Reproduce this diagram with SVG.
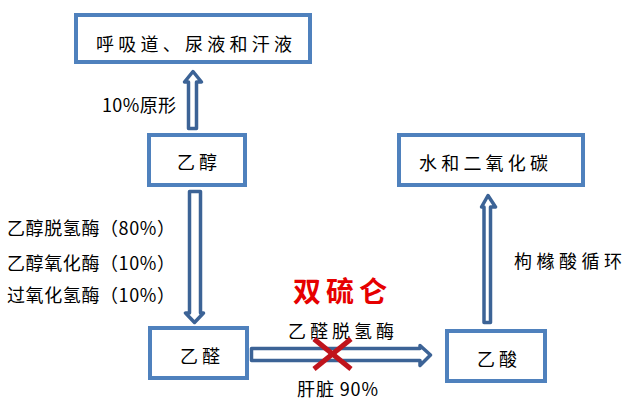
<svg xmlns="http://www.w3.org/2000/svg" width="634" height="413" viewBox="0 0 634 413">
<style>
.box{fill:#fff;stroke:#4f81bd;stroke-width:4}
.arr{fill:#fff;stroke:#3c6396;stroke-width:3.5;stroke-linejoin:round}
.t{font-family:"Noto Sans CJK SC","Liberation Sans",sans-serif;font-size:18px;fill:#000;dominant-baseline:central}
.red{font-family:"Noto Sans CJK SC","Liberation Sans",sans-serif;font-size:28px;font-weight:bold;fill:#e60000;dominant-baseline:central}
</style>
<rect width="634" height="413" fill="#fff"/>
<g id="connectors">
<polygon class="arr" points="193,71.5 201.5,82 196.5,82 196.5,128.5 188.5,128.5 188.5,82 184.5,82"/>
<polygon class="arr" points="189.5,191.5 200.5,191.5 200.5,313 203.5,313 194.5,322.5 185.5,313 189.5,313"/>
<polygon class="arr" points="251.5,348.5 420,348.5 420,345.5 430.5,355 420,365.5 420,360.5 251.5,360.5"/>
<polygon class="arr" points="488,195.5 495.5,207 490.5,207 490.5,322.5 484,322.5 484,207 481.5,207"/>
<text class="t" x="102" y="104" textLength="74" lengthAdjust="spacing">10%原形</text>
<text class="t" x="7" y="227" textLength="168" lengthAdjust="spacing">乙醇脱氢酶（80%）</text>
<text class="t" x="7" y="262" textLength="168" lengthAdjust="spacing">乙醇氧化酶（10%）</text>
<text class="t" x="7" y="294" textLength="168" lengthAdjust="spacing">过氧化氢酶（10%）</text>
<text class="t" x="288" y="330" textLength="106" lengthAdjust="spacing">乙醛脱氢酶</text>
<text class="t" x="297" y="388" textLength="81" lengthAdjust="spacing">肝脏 90%</text>
<text class="t" x="514" y="260" textLength="108" lengthAdjust="spacing">枸橼酸循环</text>
<text class="red" x="293" y="290" textLength="94" lengthAdjust="spacing">双硫仑</text>
<g id="cross" stroke="#c0141c" stroke-width="5" stroke-linecap="butt">
<line x1="314" y1="339" x2="351" y2="369"/>
<line x1="351" y1="339" x2="314" y2="369"/>
</g>
</g>
<g id="node-excretion">
<rect class="box" x="76" y="15" width="234" height="47"/>
<text class="t" x="96" y="43" textLength="196" lengthAdjust="spacing">呼吸道、尿液和汗液</text>
</g>
<g id="node-ethanol">
<rect class="box" x="149" y="135" width="96" height="50"/>
<text class="t" x="177" y="161" textLength="40" lengthAdjust="spacing">乙醇</text>
</g>
<g id="node-acetaldehyde">
<rect class="box" x="150" y="328" width="97" height="50"/>
<text class="t" x="180" y="355" textLength="40" lengthAdjust="spacing">乙醛</text>
</g>
<g id="node-acetate">
<rect class="box" x="447" y="331" width="98" height="50"/>
<text class="t" x="477" y="358" textLength="40" lengthAdjust="spacing">乙酸</text>
</g>
<g id="node-water-co2">
<rect class="box" x="399" y="135" width="184" height="50"/>
<text class="t" x="419" y="162" textLength="129" lengthAdjust="spacing">水和二氧化碳</text>
</g>
</svg>
